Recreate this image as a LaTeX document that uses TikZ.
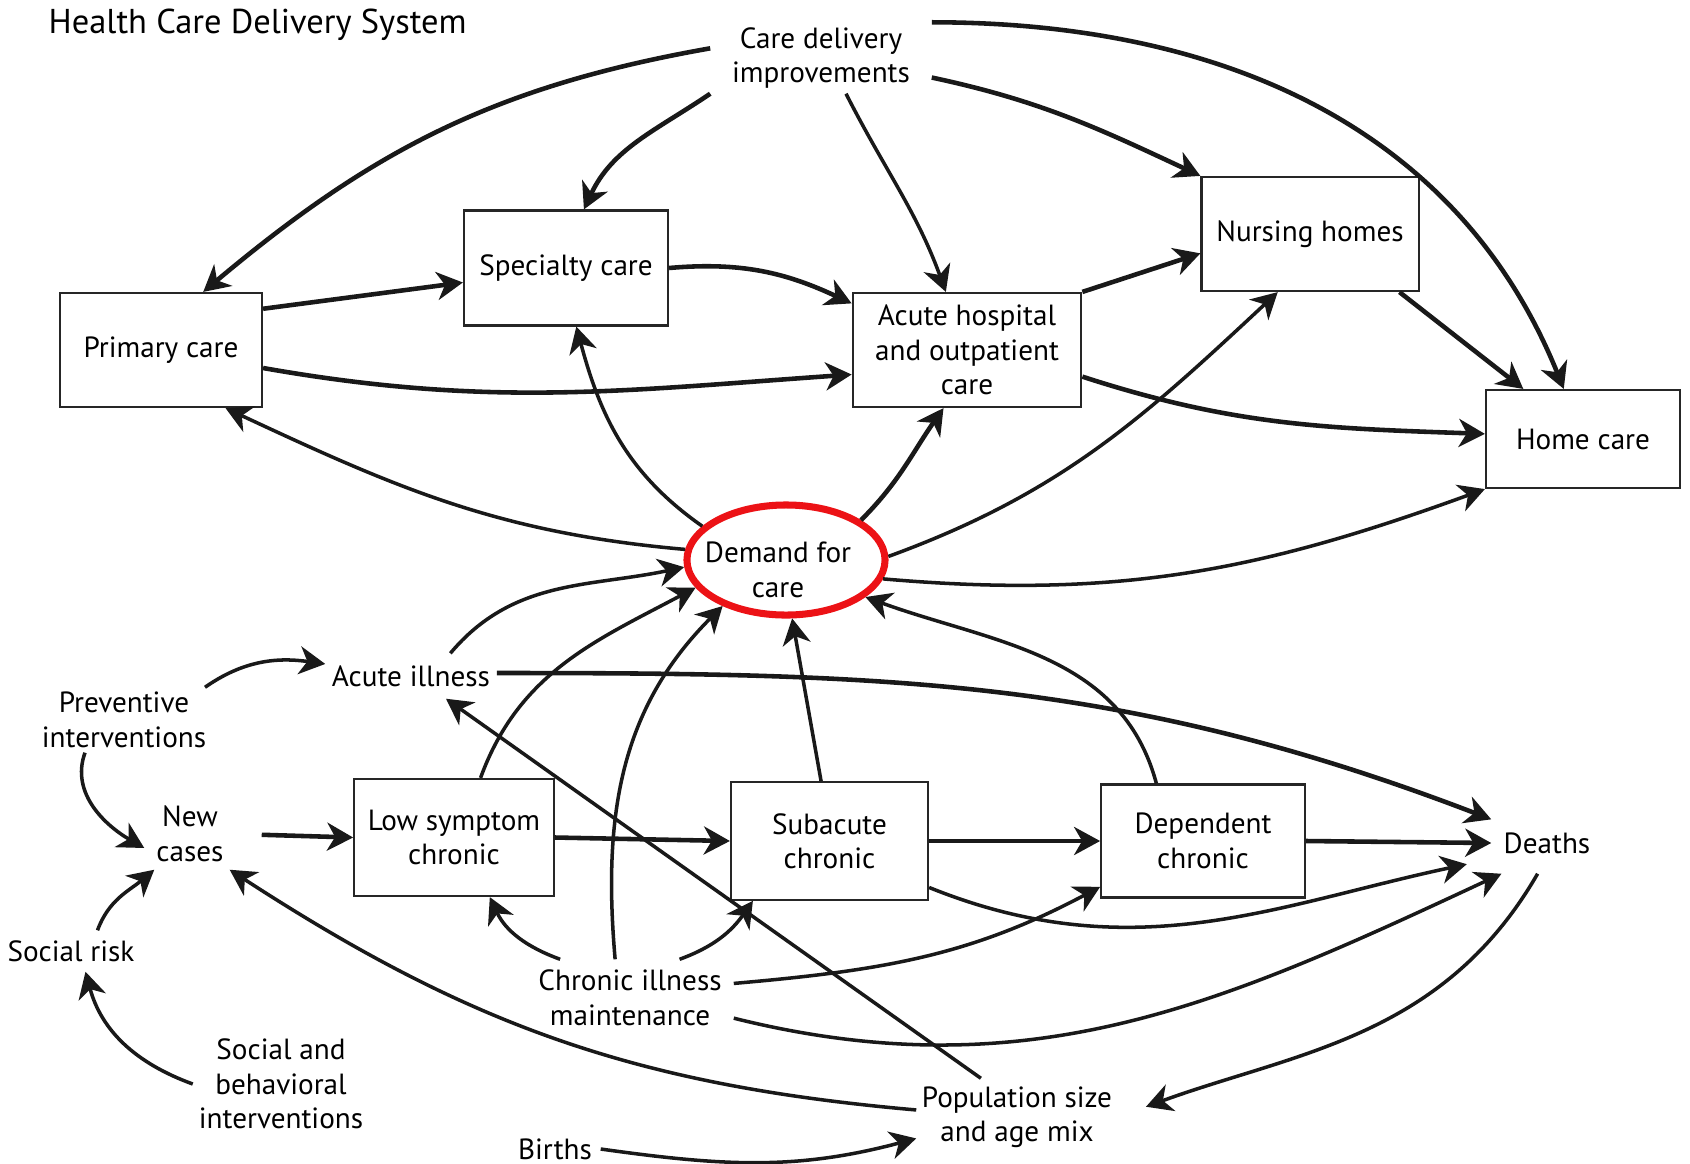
\documentclass[tikz,border=0pt]{standalone}
\usepackage{fontspec}
\setmainfont{PT Sans}
\usetikzlibrary{arrows.meta,shapes.geometric}
\definecolor{ringred}{RGB}{236,18,22}

\begin{document}
\begin{tikzpicture}[x=0.01cm, y=0.01cm,
    font=\fontsize{8.3}{9.8}\selectfont,
    box/.style={draw=black!85, line width=0.6pt, align=center, inner sep=0pt},
    lbl/.style={align=center, inner sep=0pt},
    demand/.style={ellipse, draw=ringred, line width=2pt, inner sep=0pt,
        minimum width=1.98cm, minimum height=1.1cm},
    link/.style={-{Stealth[length=0.26cm, width=0.28cm, inset=0.08cm]}, line width=1pt, black!90},
    heavy/.style={link, line width=1.3pt}]
    \useasboundingbox (0,0) rectangle (1690,-1163);

    \node[anchor=west, inner sep=0pt, font=\fontsize{9.8}{12}\selectfont] (title) at (48,-25) {Health Care Delivery System};

    \node[box, minimum width=2.02cm, minimum height=1.14cm] (prim) at (161,-350) {Primary care};
    \node[box, minimum width=2.04cm, minimum height=1.15cm] (spec) at (566,-268) {Specialty care};
    \node[box, minimum width=2.285cm, minimum height=1.14cm] (acute) at (967,-350) {Acute hospital\\and outpatient\\care};
    \node[box, minimum width=2.17cm, minimum height=1.14cm] (nurs) at (1310,-234) {Nursing homes};
    \node[box, minimum width=1.94cm, minimum height=0.98cm] (home) at (1583,-439) {Home care};
    \node[box, minimum width=1.995cm, minimum height=1.17cm] (low) at (454,-837.5) {Low symptom\\chronic};
    \node[box, minimum width=1.97cm, minimum height=1.175cm] (sub) at (829.5,-841) {Subacute\\chronic};
    \node[box, minimum width=2.035cm, minimum height=1.13cm] (dep) at (1203,-841) {Dependent\\chronic};

    \node[lbl, minimum width=2.2cm, minimum height=0.7cm] (care) at (821,-58) {Care delivery\\improvements};
    \node[lbl, minimum width=1.7cm, minimum height=0.44cm] (acill) at (411,-676) {Acute illness};
    \node[lbl, minimum width=1.8cm, minimum height=0.64cm] (prev) at (124,-720) {Preventive\\interventions};
    \node[lbl, minimum width=0.9cm, minimum height=0.7cm] (newc) at (190,-834) {New\\cases};
    \node[lbl, minimum width=1.3cm, minimum height=0.4cm] (socrisk) at (71,-951) {Social risk};
    \node[lbl, minimum width=1.75cm, minimum height=1.05cm] (socbeh) at (281,-1084) {Social and\\behavioral\\interventions};
    \node[lbl, minimum width=2.06cm, minimum height=0.76cm] (chron) at (630,-998) {Chronic illness\\maintenance};
    \node[lbl, minimum width=1.1cm, minimum height=0.6cm] (deaths) at (1547,-843) {Deaths};
    \node[lbl, minimum width=2cm, minimum height=0.76cm] (pop) at (1017,-1117) {Population size\\and age mix};
    \node[lbl, minimum width=0.9cm, minimum height=0.3cm] (births) at (555,-1149) {Births};

    \node[demand] (dem) at (786,-560) {};
    \node[lbl] (demtxt) at (778,-570) {Demand for\\care};

    \draw[heavy] (care.175) to[out=190, in=40] (prim.54);
    \draw[heavy] (care.south west) to[out=214, in=65] (spec.73);
    \draw[link] (care.-55) to[out=-63, in=110] (acute.110);
    \draw[heavy] (care.-10) to[out=-12, in=155] (nurs.north west);
    \draw[heavy] (care.north east) to[out=0, in=112] (home.111);
    \draw[heavy] (prim.22) -- (spec.188);
    \draw[heavy] (prim.-10) to[out=-10, in=184] (acute.192);
    \draw[heavy] (spec.east) to[out=5, in=155] (acute.158);
    \draw[heavy] (acute.north east) -- (nurs.190);
    \draw[heavy] (nurs.-33) -- (home.140);
    \draw[heavy] (acute.-13) to[out=-18, in=178] (home.177);

    \draw[link] (dem.174) to[out=175, in=-25] (prim.-42);
    \draw[link] (dem.158) to[out=145, in=-75] (spec.-80);
    \draw[heavy] (dem.28) to[out=45, in=-125] (acute.-112);
    \draw[link] (dem.2) to[out=20, in=-137] (nurs.-119);
    \draw[link] (dem.-11) to[out=-5, in=200] (home.south west);

    \draw[link] (acill.30) to[out=50, in=192] (dem.184);
    \draw[link] (low.66) to[out=70, in=208] (dem.197);
    \draw[link] (chron.111) to[out=95, in=225] (dem.216);
    \draw[link] (sub.98) -- (dem.-84);
    \draw[link] (dep.129) to[out=105, in=-20] (dem.-25);

    \draw[link] (prev.22) to[out=35, in=172] (acill.172);
    \draw[link] (prev.-140) to[out=250, in=150] (newc.197);
    \draw[link] (socrisk.38) to[out=70, in=220] (newc.-135);
    \draw[link] (socbeh.west) to[out=160, in=-75] (socrisk.-55);

    \draw[heavy, shorten <=0.26cm] (newc.east) -- (low.west);
    \draw[heavy] (low.east) -- (sub.west);
    \draw[heavy] (sub.east) -- (dep.west);
    \draw[heavy] (dep.east) -- (deaths.west);
    \draw[heavy] (acill.2) to[out=0, in=159] (deaths.157);
    \draw[link, shorten >=0.25cm] (sub.-25) to[out=-22, in=192] (deaths.196);

    \draw[link] (chron.151) to[out=160, in=-65] (low.-59);
    \draw[link] (chron.38) to[out=20, in=235] (sub.-142);
    \draw[link] (chron.8) to[out=5, in=208] (dep.204);
    \draw[link] (chron.-11) to[out=-14, in=205] (deaths.214);

    \draw[link] (pop.133) -- (acill.-33);
    \draw[link] (pop.176) to[out=175, in=-33] (newc.-42);
    \draw[link, shorten >=0.3cm] (deaths.-107) to[out=240, in=20] (pop.east);
    \draw[link] (births.east) to[out=-8, in=195] (pop.192);
\end{tikzpicture}
\end{document}
